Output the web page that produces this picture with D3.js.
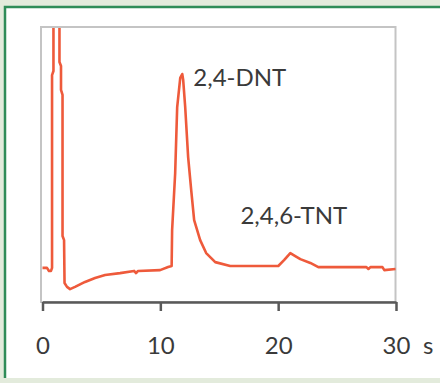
<!DOCTYPE html>
<html>
<head>
<meta charset="utf-8">
<script src="https://cdn.jsdelivr.net/npm/d3@7"></script>
<style>
  html, body { margin: 0; padding: 0; background: #e3ebdc; }
  svg { display: block; }
  .tick text, .lbl { font-family: Lato, "Open Sans", sans-serif; fill: #3a3a3a; }
</style>
</head>
<body>
<div id="chart"></div>
<script>
const WIDTH = 440;
const HEIGHT = 383;

// chromatogram trace: time (s) and signal (a.u.)
const TIMES = [0, 0.38, 0.55, 0.72, 0.81, 0.81, 0.93, 0.93, 1.44, 1.44, 1.57, 1.57, 1.70, 1.70,
  1.83, 1.87, 2.08, 2.34, 2.76, 3.61, 4.46, 5.31, 6.58, 7.77, 7.94, 8.11, 9.98, 10.66, 10.96,
  11.0, 11.26, 11.43, 11.69, 11.86, 11.94, 12.11, 12.36, 12.62, 12.87, 13.38, 13.89, 14.66,
  15.93, 20.01, 20.52, 21.03, 21.45, 21.88, 22.73, 23.41, 27.49, 27.66, 27.83, 28.85, 29.01, 29.96];
const SIGNAL = [12.4, 12.4, 11.3, 11.3, 12.4, 82.5, 84.0, 106, 106, 87.3, 85.8, 77.1, 75.3, 24.0,
  22.5, 6.9, 5.5, 4.7, 5.5, 7.3, 8.7, 9.8, 10.5, 11.3, 10.5, 11.3, 11.6, 12.7, 13.1,
  26.2, 46.9, 70.9, 81.5, 82.9, 80.7, 70.9, 52.7, 40.7, 29.8, 22.5, 17.8, 14.5,
  13.1, 13.1, 15.3, 17.8, 16.7, 15.6, 14.2, 12.7, 12.7, 12.0, 12.7, 12.7, 11.6, 12.0];
const X_TICKS = [0, 10, 20, 30];
const PEAKS = [{name: "2,4-DNT", t: 12.8, v: 78.5}, {name: "2,4,6-TNT", t: 16.8, v: 28.5}];

const SVG = d3.select("#chart")
              .append("svg")
                .attr("width", WIDTH)
                .attr("height", HEIGHT);

// white panel, green frame on left and top only
SVG.append("rect")
    .attr("x", 5).attr("y", 7)
    .attr("width", 450).attr("height", 371)
    .attr("fill", "#ffffff");
SVG.append("path")
    .attr("d", "M5,378V7H440")
    .attr("fill", "none")
    .attr("stroke", "#2f8c58")
    .attr("stroke-width", 2.5);

const X_SCALE = d3.scaleLinear().domain([0, 30]).range([42.5, 396]);
const Y_SCALE = d3.scaleLinear().domain([0, 100]).range([302, 27]);

// plot box
SVG.append("rect")
    .attr("x", 41).attr("y", 27)
    .attr("width", 354.5).attr("height", 275)
    .attr("fill", "none")
    .attr("stroke", "#c4c4c4")
    .attr("stroke-width", 2);

SVG.append("clipPath").attr("id", "clip")
  .append("rect")
    .attr("x", 41).attr("y", 28)
    .attr("width", 356).attr("height", 274);

const data = TIMES.map((t, i) => ({t: t, v: SIGNAL[i]}));

SVG.append("path")
    .datum(data)
    .attr("clip-path", "url(#clip)")
    .attr("fill", "none")
    .attr("stroke", "#ee5a3b")
    .attr("stroke-width", 2.6)
    .attr("stroke-linejoin", "round")
    .attr("d", d3.line().x(d => X_SCALE(d.t)).y(d => Y_SCALE(d.v)));

// x axis
const xAxis = SVG.append("g")
    .attr("transform", "translate(0,302)")
    .call(d3.axisBottom(X_SCALE).tickValues(X_TICKS).tickSize(9).tickSizeOuter(0).tickPadding(26));
xAxis.select(".domain").attr("stroke", "#595959").attr("stroke-width", 2.5);
xAxis.selectAll(".tick line").attr("stroke", "#595959").attr("stroke-width", 2.5);
xAxis.selectAll(".tick text").attr("font-size", "24px").attr("fill", "#3a3a3a");

SVG.append("text")
    .attr("class", "lbl")
    .attr("x", 423).attr("y", 354)
    .attr("font-size", "24px")
    .text("s");

// peak labels
SVG.selectAll(".peak")
    .data(PEAKS)
    .enter()
    .append("text")
      .attr("class", "lbl peak")
      .attr("x", d => X_SCALE(d.t))
      .attr("y", d => Y_SCALE(d.v))
      .attr("font-size", "24px")
      .text(d => d.name);
</script>
</body>
</html>
